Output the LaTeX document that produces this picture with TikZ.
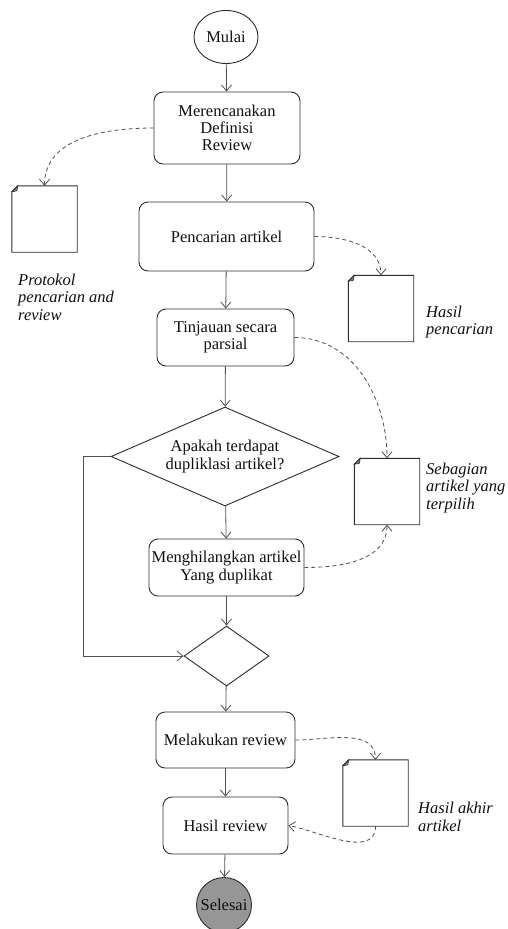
\documentclass[tikz,border=0pt]{standalone}
\usepackage{fontspec}
\setmainfont{Liberation Serif}
\usetikzlibrary{arrows.meta,shapes.geometric}
\definecolor{bord}{RGB}{45,45,45}
\definecolor{lin}{RGB}{80,80,80}
\definecolor{txt}{RGB}{15,15,15}
\definecolor{selfill}{RGB}{150,150,150}
\begin{document}
\begin{tikzpicture}[x=1pt,y=-1pt,
  every node/.style={font=\fontsize{16.5}{17.3}\selectfont, text=txt},
  box/.style={draw=bord, line width=0.9pt, rounded corners=9pt, align=center, inner sep=0pt},
  arr/.style={draw=lin, line width=0.8pt, -{Straight Barb[length=6pt,width=10pt]}},
  dsh/.style={arr, dash pattern=on 4pt off 3pt},
  docnode/.style={minimum width=65pt, minimum height=66pt, inner sep=0pt},
  lab/.style={font=\fontsize{16.5}{17.5}\selectfont\itshape, align=left, anchor=west, inner sep=0pt}]
\useasboundingbox (0,0) rectangle (508,929);

\node[draw=bord, ellipse, minimum width=64pt, minimum height=53pt, inner sep=0pt, line width=0.9pt] (mulai) at (226,37) {Mulai};
\node[box, minimum width=146pt, minimum height=72pt] (plan) at (227,128) {Merencanakan\\Definisi\\Review};
\node[box, minimum width=175pt, minimum height=69pt] (cari) at (226.5,236.5) {Pencarian artikel};
\node[box, minimum width=137pt, minimum height=57pt] (tinj) at (225.5,337.5) {Tinjauan secara\\parsial};
\node[diamond, draw=bord, line width=0.9pt, minimum width=228pt, minimum height=99pt, shape aspect=2.3, inner sep=0pt, align=center] (dup) at (225,456.5) {Apakah terdapat\\dupliklasi artikel?};
\node[box, minimum width=155pt, minimum height=57pt] (hapus) at (226.5,567.5) {Menghilangkan artikel\\Yang duplikat};
\node[diamond, draw=bord, line width=0.9pt, minimum width=85pt, minimum height=60pt, shape aspect=1.4, inner sep=0pt] (mrg) at (226.5,656) {};
\node[box, minimum width=139pt, minimum height=56pt] (rev) at (225.5,740) {Melakukan review};
\node[box, minimum width=125pt, minimum height=57pt] (hasil) at (225.5,825.5) {Hasil review};
\node[circle, draw=bord, line width=0.9pt, fill=selfill, minimum size=55pt, inner sep=0pt] (end) at (224,905) {Selesai};

\node[docnode] (d1) at (44.5,219) {};
\node[docnode] (d2) at (381,308.5) {};
\node[docnode] (d3) at (387,491.5) {};
\node[docnode] (d4) at (375.5,793) {};
\foreach \d in {d1,d2,d3,d4}{
  \draw[bord, line width=0.9pt] ([xshift=6pt]\d.north west) -- (\d.north east) -- (\d.south east) -- (\d.south west) -- ([yshift=-6pt]\d.north west) -- cycle;
  \filldraw[bord, fill=gray, line width=0.6pt] ([xshift=6pt]\d.north west) -- ([xshift=5pt,yshift=-5pt]\d.north west) -- ([yshift=-6pt]\d.north west) -- cycle;
}

\node[lab] (l1) at (18,297) {Protokol\\pencarian and\\review};
\node[lab] (l2) at (426,322) {Hasil\\pencarian};
\node[lab] (l3) at (426,488) {Sebagian\\artikel yang\\terpilih};
\node[lab] (l4) at (418,817) {Hasil akhir\\artikel};

\draw[arr] (mulai) -- (plan);
\draw[arr] (plan) -- (cari);
\draw[arr] (cari) -- (tinj);
\draw[arr] (tinj) -- (dup);
\draw[arr] (dup) -- (hapus);
\draw[arr] (hapus) -- (mrg);
\draw[arr] (mrg) -- (rev);
\draw[arr] (rev) -- (hasil);
\draw[arr] (hasil) -- (end);
\coordinate (lp) at (83,456.5);
\draw[arr] (dup.west) -- (lp) |- (mrg.west);

\draw[dsh] (plan.west) to[out=180,in=90] (d1.north);
\draw[dsh] (cari.east) to[out=0,in=90] (d2.north);
\draw[dsh] (tinj.east) to[out=0,in=90] (d3.north);
\draw[dsh] (hapus.east) to[out=0,in=-90] (d3.south);
\draw[dsh] (rev.east) to[out=0,in=90] (d4.north);
\draw[dsh] (d4.south) .. controls +(0,34) and (315,830) .. (hasil.east);
\end{tikzpicture}
\end{document}
